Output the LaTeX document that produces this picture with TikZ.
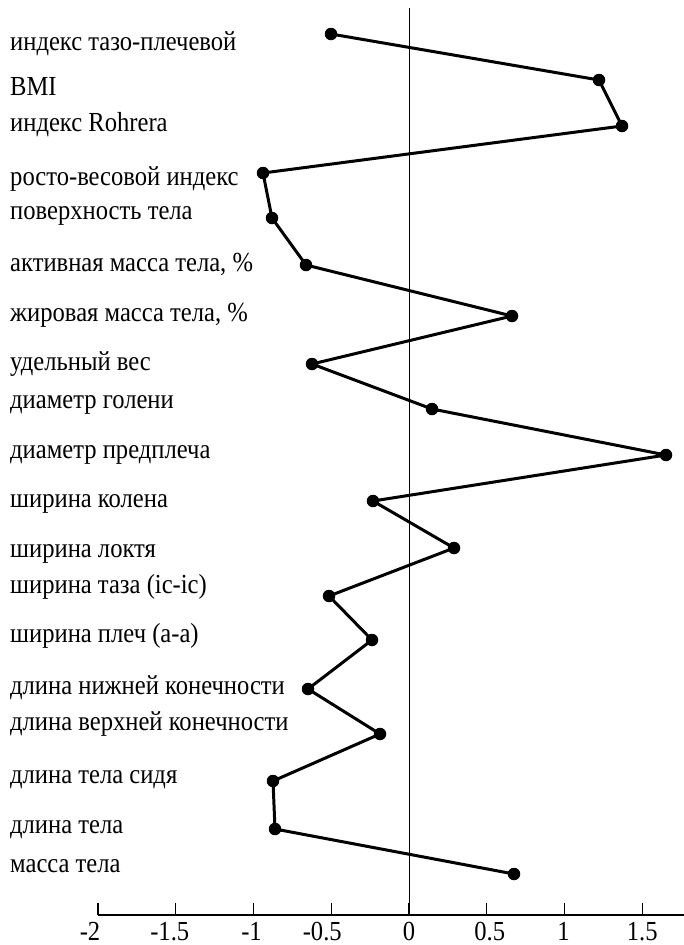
\documentclass[tikz,border=0pt]{standalone}
\usepackage{fontspec}
\setmainfont{Liberation Serif}
\newcommand{\stretchtxt}[1]{\scalebox{1}[1.12]{#1}}
\begin{document}
\begin{tikzpicture}[x=1pt,y=-1pt,
  lbl/.style={anchor=base west, inner sep=0pt, font=\fontsize{24.6}{28}\selectfont},
  ticklbl/.style={anchor=base, inner sep=0pt, font=\fontsize{24.6}{28}\selectfont},
  dotnode/.style={circle, fill=black, inner sep=0pt, minimum size=12.5pt},
  conn/.style={line width=3pt, line join=round, line cap=round},
  axisline/.style={line width=1.2pt},
  zeroline/.style={line width=1pt}]
\useasboundingbox (0,0) rectangle (684,945);

% axes
\coordinate (z0) at (409,8);
\coordinate (z1) at (409,915);
\coordinate (a0) at (98,915);
\coordinate (a1) at (684,915);
\draw[zeroline] (z0) -- (z1);
\draw[axisline] (a0) -- (a1);
\foreach \k/\t/\dx [count=\i] in {-4/-2/-8,-3/-1.5/-6,-2/-1/-2,-1/-0.5/-9,0/0/0,1/0.5/3,2/1/-1,3/1.5/0}{
  \coordinate (tb\i) at (409+\k*77.75,915);
  \coordinate (tt\i) at (409+\k*77.75,902.5);
  \draw[axisline] (tb\i) -- (tt\i);
  \node[ticklbl] (tl\i) at (409+\k*77.75+\dx,940) {\stretchtxt{\t}};
}

% labels
\foreach \yy/\txt [count=\i] in {
 50/{индекс тазо-плечевой},
 95/{BMI},
 131/{индекс Rohrera},
 185/{росто-весовой индекс},
 219/{поверхность тела},
 271/{активная масса тела, \%},
 321/{жировая масса тела, \%},
 370/{удельный вес},
 408/{диаметр голени},
 458/{диаметр предплеча},
 507/{ширина колена},
 557/{ширина локтя},
 593/{ширина таза (ic-ic)},
 642/{ширина плеч (a-a)},
 694/{длина нижней конечности},
 730/{длина верхней конечности},
 783/{длина тела сидя},
 833/{длина тела},
 872/{масса тела}}{
  \node[lbl] (l\i) at (10,\yy) {\stretchtxt{\txt}};
}

% data points
\foreach \xx/\yy [count=\i] in {
 331/34, 599/80, 622/126, 263/173, 272/218, 306/265, 512/316,
 312/364, 432/409, 666/455, 373/501, 454/548, 329/596, 372/640,
 308/689, 380/734, 273/781, 275/829, 514/874}{
  \coordinate (p\i) at (\xx,\yy);
}
\draw[conn] (p1) -- (p2) -- (p3) -- (p4) -- (p5) -- (p6) -- (p7) -- (p8)
  -- (p9) -- (p10) -- (p11) -- (p12) -- (p13) -- (p14) -- (p15) -- (p16)
  -- (p17) -- (p18) -- (p19);
\foreach \i in {1,...,19}{
  \node[dotnode] (d\i) at (p\i) {};
}
\end{tikzpicture}
\end{document}
